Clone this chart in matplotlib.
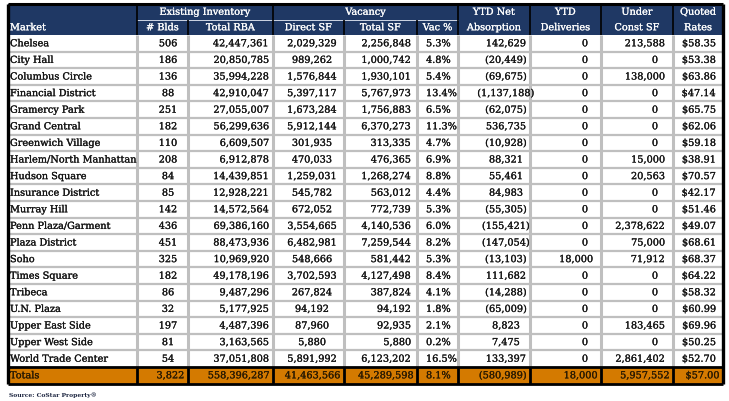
import matplotlib
matplotlib.use("Agg")
import matplotlib.pyplot as plt
import matplotlib.patheffects as pe
from matplotlib.patches import Rectangle


markets = ["Chelsea", "City Hall", "Columbus Circle", "Financial District", "Gramercy Park",
           "Grand Central", "Greenwich Village", "Harlem/North Manhattan", "Hudson Square",
           "Insurance District", "Murray Hill", "Penn Plaza/Garment", "Plaza District", "Soho",
           "Times Square", "Tribeca", "U.N. Plaza", "Upper East Side", "Upper West Side",
           "World Trade Center"]
blds = [506, 186, 136, 88, 251, 182, 110, 208, 84, 85, 142, 436, 451, 325, 182, 86, 32, 197, 81, 54]
total_rba = [42447361, 20850785, 35994228, 42910047, 27055007, 56299636, 6609507, 6912878,
             14439851, 12928221, 14572564, 69386160, 88473936, 10969920, 49178196, 9487296,
             5177925, 4487396, 3163565, 37051808]
direct_sf = [2029329, 989262, 1576844, 5397117, 1673284, 5912144, 301935, 470033, 1259031,
             545782, 672052, 3554665, 6482981, 548666, 3702593, 267824, 94192, 87960, 5880,
             5891992]
total_sf = [2256848, 1000742, 1930101, 5767973, 1756883, 6370273, 313335, 476365, 1268274,
            563012, 772739, 4140536, 7259544, 581442, 4127498, 387824, 94192, 92935, 5880,
            6123202]
vac_pct = [5.3, 4.8, 5.4, 13.4, 6.5, 11.3, 4.7, 6.9, 8.8, 4.4, 5.3, 6.0, 8.2, 5.3, 8.4, 4.1,
           1.8, 2.1, 0.2, 16.5]
net_absorption = [142629, -20449, -69675, -1137188, -62075, 536735, -10928, 88321, 55461, 84983,
                  -55305, -155421, -147054, -13103, 111682, -14288, -65009, 8823, 7475, 133397]
deliveries = [0, 0, 0, 0, 0, 0, 0, 0, 0, 0, 0, 0, 0, 18000, 0, 0, 0, 0, 0, 0]
under_const = [213588, 0, 138000, 0, 0, 0, 0, 15000, 20563, 0, 0, 2378622, 75000, 71912, 0, 0,
               0, 183465, 0, 2861402]
quoted_rates = [58.35, 53.38, 63.86, 47.14, 65.75, 62.06, 59.18, 38.91, 70.57, 42.17, 51.46,
                49.07, 68.61, 68.37, 64.22, 58.32, 60.99, 69.96, 50.25, 52.70]

totals = ["Totals", "3,822", "558,396,287", "41,463,566", "45,289,598", "8.1%", "(580,989)",
          "18,000", "5,957,552", "$57.00"]

NAVY = "#1f3864"
ORANGE = "#d47a00"
GRID = "#bfbfbf"
TEXT = "#141414"
FONT = "DejaVu Serif"
FS = 7.0

W, H = 729, 401
fig = plt.figure(figsize=(W / 100, H / 100), dpi=100)
ax = fig.add_axes([0, 0, 1, 1])
ax.set_xlim(0, W)
ax.set_ylim(H, 0)
ax.axis("off")

# column edges in pixels
edges = [8, 137, 188, 273, 344, 417, 458, 530, 601, 673, 723]
top, mid, hdr_bot = 4, 19.5, 35
row_h = 16.6
n = len(markets)
tot_top = hdr_bot + n * row_h
tot_bot = tot_top + row_h


def fmt_int(v):
    return f"({abs(v):,})" if v < 0 else f"{v:,}"


# header background
ax.add_patch(Rectangle((edges[0], top), edges[-1] - edges[0], hdr_bot - top, color=NAVY, lw=0))
# totals background
ax.add_patch(Rectangle((edges[0], tot_top), edges[-1] - edges[0], row_h, color=ORANGE, lw=0))

# grid in data area
for i in range(1, n):
    y = hdr_bot + i * row_h
    ax.plot([edges[0], edges[-1]], [y, y], color=GRID, lw=1.6, solid_capstyle="butt")
for x in edges[1:-1]:
    ax.plot([x, x], [hdr_bot, tot_top], color=GRID, lw=2.2, solid_capstyle="butt")

# header separators
ax.plot([edges[1], edges[6]], [mid, mid], color="#cfd6e4", lw=0.7)
for x in [edges[1], edges[3], edges[6], edges[7], edges[8], edges[9]]:
    ax.plot([x, x], [top, hdr_bot], color="black", lw=1.2, solid_capstyle="butt")
for x in [edges[2], edges[4], edges[5]]:
    ax.plot([x, x], [mid, hdr_bot], color="black", lw=1.2, solid_capstyle="butt")

# totals borders
for y in [tot_top, tot_bot]:
    ax.plot([edges[0], edges[-1]], [y, y], color="black", lw=2.0, solid_capstyle="butt")
for x in edges[1:-1]:
    ax.plot([x, x], [tot_top, tot_bot], color="black", lw=2.0, solid_capstyle="butt")

# outer border
ax.plot([edges[0], edges[-1]], [top, top], color="black", lw=2.2, solid_capstyle="butt")
ax.plot([edges[0], edges[0]], [top, tot_bot], color="black", lw=2.4, solid_capstyle="butt")
ax.plot([edges[-1], edges[-1]], [top, tot_bot], color="black", lw=2.4, solid_capstyle="butt")

# header text
hkw = dict(color="white", fontsize=FS, family=FONT, va="center",
           path_effects=[pe.withStroke(linewidth=0.15, foreground="white")])
yr1, yr2 = (top + mid) / 2 + 0.5, (mid + hdr_bot) / 2 + 0.5
ax.text(10, yr2, "Market", ha="left", **hkw)
ax.text((edges[1] + edges[3]) / 2, yr1, "Existing Inventory", ha="center", **hkw)
ax.text((edges[3] + edges[6]) / 2, yr1, "Vacancy", ha="center", **hkw)
sub = {1: "# Blds", 2: "Total RBA", 3: "Direct SF", 4: "Total SF", 5: "Vac %"}
for c, s in sub.items():
    ax.text((edges[c] + edges[c + 1]) / 2, yr2, s, ha="center", **hkw)
two_line = {6: ("YTD Net", "Absorption"), 7: ("YTD", "Deliveries"),
            8: ("Under", "Const SF"), 9: ("Quoted", "Rates")}
for c, (a, b) in two_line.items():
    xc = (edges[c] + edges[c + 1]) / 2
    ax.text(xc, yr1, a, ha="center", **hkw)
    ax.text(xc, yr2, b, ha="center", **hkw)

# data text, slightly heavier like the original
heavy = [pe.withStroke(linewidth=0.18, foreground=TEXT)]
dkw = dict(color=TEXT, fontsize=FS, family=FONT, va="center", path_effects=heavy)
for i in range(n):
    y = hdr_bot + (i + 0.5) * row_h + 0.5
    ax.text(10, y, markets[i], ha="left", **dkw)
    ax.text(168, y, f"{blds[i]}", ha="center", **dkw)
    ax.text(269, y, fmt_int(total_rba[i]), ha="right", **dkw)
    ax.text(312, y, fmt_int(direct_sf[i]), ha="center", **dkw)
    ax.text(411, y, fmt_int(total_sf[i]), ha="right", **dkw)
    ax.text(426, y, f"{vac_pct[i]:.1f}%", ha="left", **dkw)
    ax.text(506, y, fmt_int(net_absorption[i]), ha="center", **dkw)
    d = deliveries[i]
    ax.text(593 if d else 588, y, fmt_int(d), ha="right", **dkw)
    u = under_const[i]
    ax.text(665 if u else 658, y, fmt_int(u), ha="right", **dkw)
    ax.text(716, y, f"${quoted_rates[i]:.2f}", ha="right", **dkw)

# totals text
yt = tot_top + row_h / 2 + 0.5
tcol = "#2a1a00"
tkw = dict(color=tcol, fontsize=FS, family=FONT, va="center",
           path_effects=[pe.withStroke(linewidth=0.18, foreground=tcol)])
ax.text(10, yt, totals[0], ha="left", **tkw)
for c, s in enumerate(totals[1:], start=1):
    if c == 5:
        ax.text(426, yt, s, ha="left", **tkw)
    else:
        ax.text(edges[c + 1] - 3.5, yt, s, ha="right", clip_on=True, **tkw)

ax.text(9, 395, "Source: CoStar Property®", ha="left", va="center", fontsize=4.3,
        family=FONT, weight="bold", color="#1c2540")

fig.savefig("out.png", dpi=100)
